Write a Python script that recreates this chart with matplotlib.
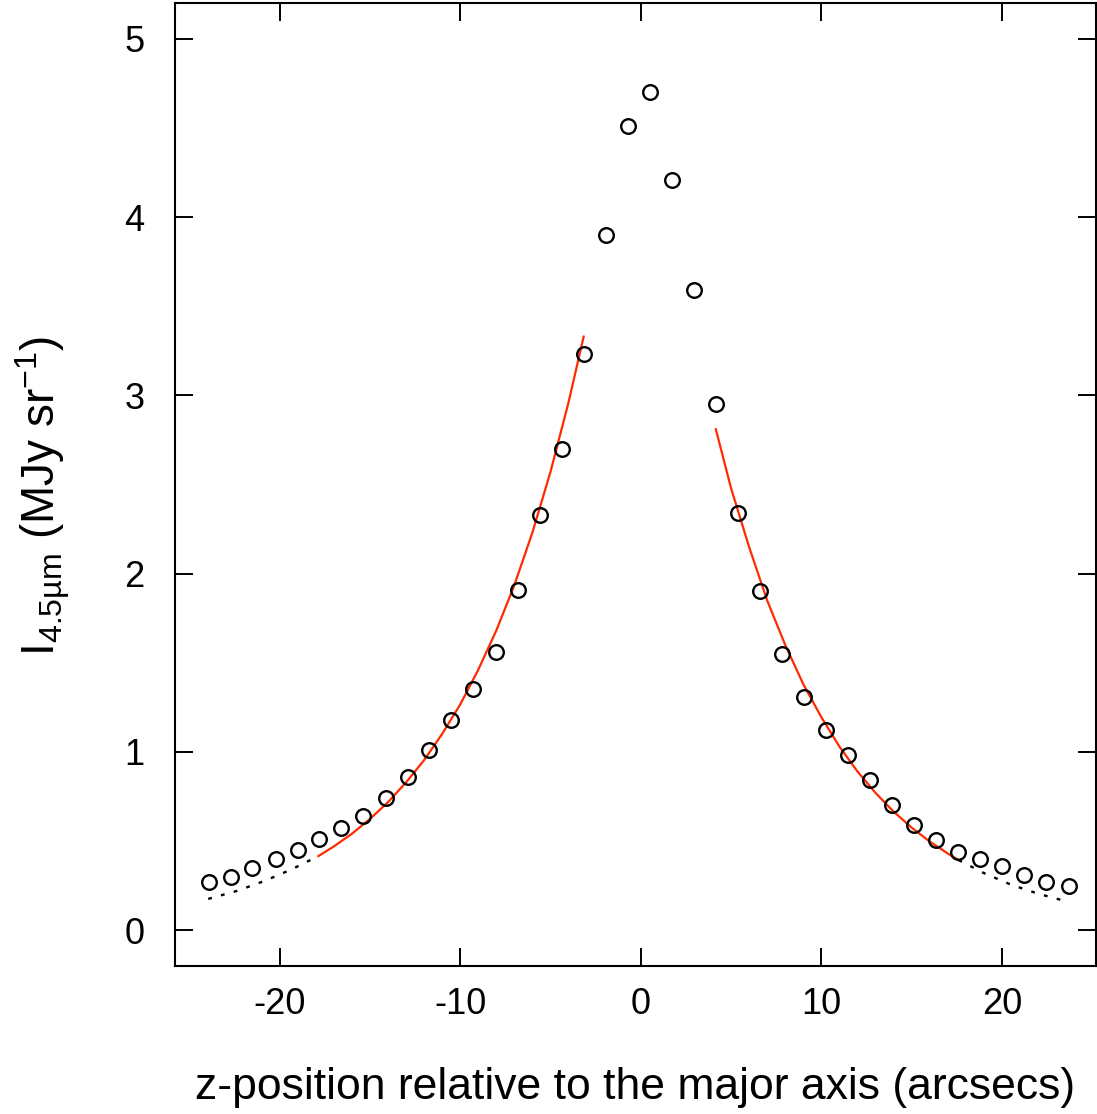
import matplotlib
matplotlib.use("Agg")
import matplotlib.pyplot as plt

plt.rcParams["font.family"] = ["Liberation Sans", "DejaVu Sans"]
plt.rcParams["mathtext.fontset"] = "custom"
plt.rcParams["mathtext.rm"] = "Liberation Sans"
plt.rcParams["mathtext.it"] = "Liberation Sans:italic"
plt.rcParams["axes.unicode_minus"] = False

# measured profile (open circles)
z_obs = [-23.9, -22.7, -21.5, -20.2, -19.0, -17.8, -16.6, -15.4, -14.1, -12.9,
         -11.7, -10.5, -9.26, -8.04, -6.82, -5.6, -4.38, -3.16, -1.94, -0.72,
         0.5, 1.72, 2.94, 4.16, 5.38, 6.6, 7.82, 9.04, 10.26, 11.47,
         12.69, 13.91, 15.13, 16.35, 17.57, 18.8, 20.0, 21.2, 22.45, 23.7]
i_obs = [0.27, 0.30, 0.35, 0.40, 0.45, 0.51, 0.57, 0.64, 0.74, 0.86,
         1.01, 1.18, 1.35, 1.56, 1.91, 2.33, 2.70, 3.23, 3.90, 4.51,
         4.70, 4.21, 3.59, 2.95, 2.34, 1.90, 1.55, 1.31, 1.12, 0.98,
         0.84, 0.70, 0.59, 0.505, 0.44, 0.40, 0.36, 0.31, 0.27, 0.25]

# fitted profile, left side (red = fit range, dotted = extension)
z_fit_left = [-17.85, -17.0, -16.0, -15.0, -14.0, -13.0, -12.0, -11.0, -10.0,
              -9.0, -8.0, -7.0, -6.0, -5.0, -4.0, -3.16]
i_fit_left = [0.415, 0.469, 0.54, 0.623, 0.717, 0.828, 0.953, 1.10, 1.265,
              1.46, 1.68, 1.935, 2.23, 2.57, 2.96, 3.33]
z_ext_left = [-23.95, -22.35, -20.85, -19.35, -17.85]
i_ext_left = [0.175, 0.22, 0.275, 0.34, 0.415]

# fitted profile, right side
z_fit_right = [4.16, 5.0, 6.0, 7.0, 8.0, 9.0, 10.0, 11.0, 12.0, 13.0,
               14.0, 15.0, 16.0, 17.0, 17.6]
i_fit_right = [2.81, 2.48, 2.15, 1.85, 1.60, 1.38, 1.195, 1.03, 0.89, 0.77,
               0.665, 0.575, 0.497, 0.43, 0.393]
z_ext_right = [17.6, 19.0, 20.5, 22.0, 23.73]
i_ext_right = [0.393, 0.32, 0.255, 0.204, 0.157]

x_ticks = [-20, -10, 0, 10, 20]
y_ticks = [0, 1, 2, 3, 4, 5]

fig = plt.figure(figsize=(10.97, 11.14), dpi=100)
ax = fig.add_axes([0.1595, 0.1331, 0.8396, 0.8639])

red = "#ff2a00"
ax.plot(z_fit_left, i_fit_left, color=red, lw=1.6)
ax.plot(z_fit_right, i_fit_right, color=red, lw=1.6)
for zz, ii in [(z_ext_left, i_ext_left), (z_ext_right, i_ext_right)]:
    ax.plot(zz, ii, color="black", lw=1.7, linestyle=(0, (1.6, 4.0)))

ax.plot(z_obs, i_obs, linestyle="none", marker="o", markersize=10.5,
        markerfacecolor="none", markeredgecolor="black", markeredgewidth=1.7)

ax.set_xlim(-25.79, 25.21)
ax.set_ylim(-0.2, 5.2)
ax.set_xticks(x_ticks)
ax.set_yticks(y_ticks)
ax.tick_params(direction="in", length=13, width=1.4, labelsize=26,
               top=True, right=True)
ax.tick_params(axis="x", pad=15)
ax.tick_params(axis="y", pad=22)
for sp in ax.spines.values():
    sp.set_linewidth(1.5)

ax.set_xlabel("z-position relative to the major axis (arcsecs)", fontsize=32,
              va="center")
ax.xaxis.set_label_coords(0.5, -0.127)
ax.set_ylabel(r"I$_{\mathrm{4.5µm}}$ (MJy sr$^{-1}$)", fontsize=33,
              va="center")
ax.yaxis.set_label_coords(-0.1433, 0.488)

fig.savefig("out.png", dpi=100)
